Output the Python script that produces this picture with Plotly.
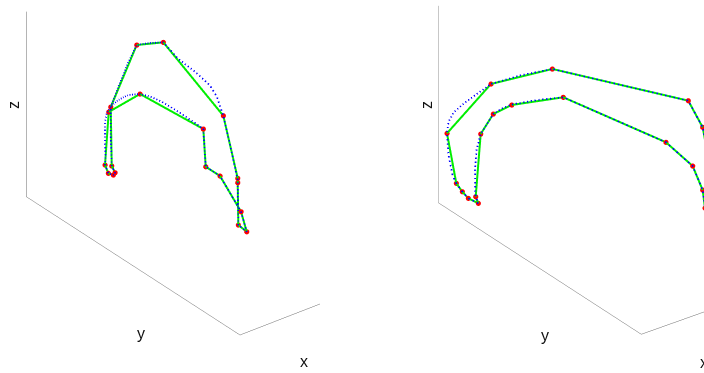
import plotly.graph_objects as go

# ---------------- left scene data (normalized units) ----------------
# control points (green polyline + red markers)
ctrl_left_x = [0.2, 0.2, 0.2, 0.2, 0.2, 0.2, 0.2, 0.2, 0.2, 0.2,
               0.2, 0.2, 0.2, 0.2, 0.2, 0.2, 0.2, 0.2, 0.2, 0.2]
ctrl_left_y = [0.1001, 0.0955, 0.2171, 0.3416, 0.6224, 0.6898, 0.6898, 0.6926, 0.7319, 0.7052,
               0.6069, 0.5400, 0.5288, 0.2326, 0.0861, 0.0688, 0.0842, 0.1076, 0.1156, 0.1001]
ctrl_left_z = [0.1068, 0.4222, 0.8483, 0.9559, 0.7690, 0.4810, 0.4572, 0.2307, 0.2239, 0.3121,
               0.4316, 0.4318, 0.6272, 0.5949, 0.3882, 0.0887, 0.0554, 0.0637, 0.0821, 0.1068]
# fitted curve (blue dotted)
fit_left_x = [0.25, 0.25, 0.25, 0.25, 0.25, 0.25, 0.25, 0.25, 0.25, 0.25,
              0.25, 0.25, 0.25, 0.25, 0.25, 0.25, 0.25, 0.25, 0.25, 0.25,
              0.25, 0.25, 0.25, 0.25, 0.25, 0.25, 0.25, 0.25, 0.25, 0.25,
              0.25, 0.25, 0.25, 0.25, 0.25, 0.25, 0.25, 0.25, 0.25, 0.25, 0.25]
fit_left_y = [0.1189, 0.1146, 0.1142, 0.1483, 0.1928, 0.2358, 0.2981, 0.3603, 0.4305, 0.5087,
              0.5788, 0.6116, 0.6411, 0.6748, 0.7085, 0.7099, 0.7113, 0.7506, 0.7239, 0.6724,
              0.6256, 0.5587, 0.5531, 0.5475, 0.5087, 0.4305, 0.3528, 0.2981, 0.2513, 0.1965,
              0.1497, 0.1189, 0.0955, 0.0875, 0.0875, 0.0898, 0.0875, 0.1029, 0.1263, 0.1343, 0.1189]
fit_left_z = [0.1291, 0.2665, 0.4445, 0.5728, 0.7357, 0.8706, 0.9280, 0.9783, 0.9405, 0.9303,
              0.9082, 0.8705, 0.7914, 0.6474, 0.4942, 0.3602, 0.2531, 0.2463, 0.3344, 0.3970,
              0.4539, 0.4542, 0.5511, 0.6496, 0.6530, 0.6556, 0.6516, 0.6388, 0.6173, 0.5710,
              0.5090, 0.4562, 0.3965, 0.3435, 0.2462, 0.1669, 0.1111, 0.0778, 0.0861, 0.1044, 0.1291]

# ---------------- right scene data ----------------
ctrl_right_x = [0.8297, 0.8651, 0.8863, 0.9076, 0.9405, 0.7847, 0.5676, 0.0861, 0.0351, 0.0198,
                0.0092, 0.0092, 0.0198, 0.0269, 0.0351, 0.0705, 0.1650, 0.5287, 0.7114, 0.7766,
                0.8212, 0.8389, 0.8297]
ctrl_right_y = [0.1303, 0.0949, 0.0737, 0.0524, 0.0195, 0.1753, 0.3924, 0.8739, 0.9249, 0.9402,
                0.9508, 0.9508, 0.9402, 0.9331, 0.9249, 0.8895, 0.7950, 0.4313, 0.2486, 0.1834,
                0.1388, 0.1211, 0.1303]
ctrl_right_z = [0.0598, 0.0666, 0.0890, 0.1205, 0.3574, 0.6899, 0.8802, 0.9719, 0.8635, 0.7560,
                0.6091, 0.4820, 0.4002, 0.4574, 0.5447, 0.6481, 0.7190, 0.7567, 0.6216, 0.5416,
                0.4165, 0.0885, 0.0598]
fit_right_x = [0.8584, 0.8938, 0.9150, 0.9363, 0.9497, 0.9639, 0.9692, 0.9639, 0.9444, 0.9055,
               0.8584, 0.8134, 0.7107, 0.5963, 0.3555, 0.1147, 0.0637, 0.0485, 0.0379, 0.0379,
               0.0485, 0.0556, 0.0637, 0.0992, 0.1937, 0.3755, 0.5574, 0.6505, 0.7401, 0.7744,
               0.8052, 0.8499, 0.8647, 0.8700, 0.8693, 0.8676, 0.8584]
fit_right_y = [0.1416, 0.1062, 0.0850, 0.0637, 0.0503, 0.0361, 0.0308, 0.0361, 0.0556, 0.0945,
               0.1416, 0.1866, 0.2893, 0.4037, 0.6445, 0.8853, 0.9363, 0.9515, 0.9621, 0.9621,
               0.9515, 0.9444, 0.9363, 0.9008, 0.8063, 0.6245, 0.4426, 0.3495, 0.2599, 0.2256,
               0.1948, 0.1501, 0.1353, 0.1300, 0.1307, 0.1324, 0.1416]
fit_right_z = [0.0713, 0.0781, 0.1005, 0.1321, 0.1672, 0.2615, 0.3690, 0.4308, 0.4903, 0.5590,
               0.6321, 0.7014, 0.7986, 0.8917, 0.9376, 0.9834, 0.8750, 0.7676, 0.6206, 0.4935,
               0.4117, 0.4690, 0.5562, 0.6596, 0.7305, 0.7494, 0.7683, 0.7056, 0.6357, 0.5974,
               0.5532, 0.4281, 0.3389, 0.2345, 0.1331, 0.1001, 0.0713]

# axis title labels (drawn as annotations so they sit where the reference puts them)
axis_titles = ["x", "y", "z"]

GREEN = "#00ee00"
BLUE = "#0000ff"
RED = "#ff0000"

fig = go.Figure()

def add_traces(scene, cx, cy, cz, fx, fy, fz):
    fig.add_trace(go.Scatter3d(
        x=cx, y=cy, z=cz, mode="lines+markers", scene=scene,
        line=dict(color=GREEN, width=4),
        marker=dict(color=RED, size=3, line=dict(width=0)),
        hoverinfo="skip", showlegend=False))
    fig.add_trace(go.Scatter3d(
        x=fx, y=fy, z=fz, mode="lines", scene=scene,
        line=dict(color=BLUE, width=3.5, dash="dot"),
        hoverinfo="skip", showlegend=False))

add_traces("scene", ctrl_left_x, ctrl_left_y, ctrl_left_z, fit_left_x, fit_left_y, fit_left_z)
add_traces("scene2", ctrl_right_x, ctrl_right_y, ctrl_right_z, fit_right_x, fit_right_y, fit_right_z)

def ax():
    return dict(
        title=dict(text=""),
        range=[0, 1], showbackground=False, showgrid=False, zeroline=False,
        showticklabels=False, ticks="", showline=True, linecolor="#6a6a6a", linewidth=1,
        showspikes=False, autorange=False)

def scene_layout(domain_x, ar, eye, center):
    return dict(
        domain=dict(x=domain_x, y=[0, 1]),
        xaxis=ax(), yaxis=ax(), zaxis=ax(),
        aspectmode="manual",
        aspectratio=dict(x=ar[0], y=ar[1], z=ar[2]),
        camera=dict(eye=dict(x=eye[0], y=eye[1], z=eye[2]),
                    center=dict(x=center[0], y=center[1], z=center[2]),
                    up=dict(x=0, y=0, z=1),
                    projection=dict(type="orthographic")),
        bgcolor="white")

W, H = 704, 373
title_font = dict(family="Liberation Sans, Arial", size=16, color="#111")
# (label, x px, y px, angle)
title_spots = [
    (axis_titles[2], 14, 105, -90), (axis_titles[1], 140.5, 333, 0), (axis_titles[0], 304, 361, 0),
    (axis_titles[2], 426.5, 105.5, -90), (axis_titles[1], 544.5, 335, 0), (axis_titles[0], 703.5, 362, 0),
]
annotations = [dict(text=t, x=px / W, y=1 - py / H, xref="paper", yref="paper",
                    xanchor="center", yanchor="middle", showarrow=False,
                    textangle=ang, font=title_font)
               for (t, px, py, ang) in title_spots]

fig.update_layout(
    width=W, height=H,
    margin=dict(l=0, r=0, t=0, b=0),
    paper_bgcolor="white",
    showlegend=False,
    annotations=annotations,
    scene=scene_layout([0, 0.5], (0.5426, 1.8724, 1.1458),
                       (1.0944, 1.4394, 0.8686), (0.0350, 0.0702, -0.1330)),
    scene2=scene_layout([0.5, 1], (0.5298, 1.8279, 1.2027),
                        (1.3130, 1.3081, 0.8174), (0.2686, -0.1013, -0.1434)),
)

fig.write_html("out.html", config={"displayModeBar": False})
